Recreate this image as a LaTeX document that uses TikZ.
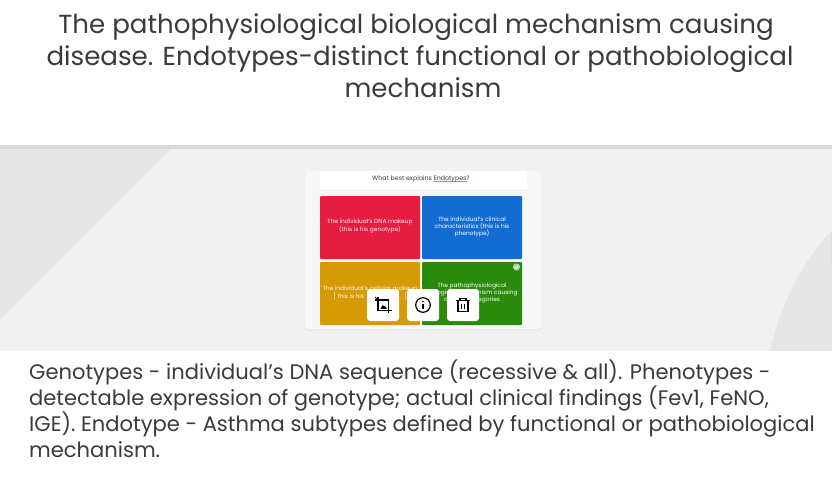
\documentclass[tikz,border=0pt]{standalone}
\usepackage{fontspec}
\setmainfont{Poppins}
\usetikzlibrary{decorations.pathmorphing}
\definecolor{inktext}{HTML}{3B3B3B}
\definecolor{panelbg}{HTML}{F1F1F1}
\definecolor{paneldark}{HTML}{E6E6E6}
\definecolor{rulegrey}{HTML}{D9D9D9}
\definecolor{cardred}{HTML}{E61C41}
\definecolor{cardblue}{HTML}{136CD2}
\definecolor{cardyellow}{HTML}{D69A04}
\definecolor{cardgreen}{HTML}{2A8A0C}
\tikzset{
  anstext/.style={text=white,align=center,font=\fontsize{5.9}{6.8}\selectfont,inner sep=0pt},
  toolbtn/.style={fill=white,rounded corners=3pt,draw=none},
  icon/.style={draw=black,line width=1.1pt},
}
\begin{document}
\begin{tikzpicture}[x=1pt,y=-1pt]
\useasboundingbox (0,0) rectangle (832,485);
\fill[white] (0,0) rectangle (832,485);
% band
\fill[panelbg] (0,149) rectangle (832,351);
\fill[rulegrey] (0,145) rectangle (832,149);
\fill[paneldark] (0,149) -- (171,149) -- (0,320) -- cycle;
\fill[paneldark] (770,351) .. controls (781,303) and (803,261) .. (832,230) -- (832,351) -- cycle;
\fill[rulegrey!80!paneldark] (830.5,232) rectangle (832,266);
% title
\node[text=inktext,align=center,inner sep=0pt,font=\fontsize{26.1}{32}\selectfont] (title) at (423,55.5)
  {The pathophysiological biological mechanism causing\hspace{14pt}\null\\disease. Endotypes-distinct functional or pathobiological\hspace{6pt}\null\\mechanism};
% card
\fill[black!9,rounded corners=4pt] (304.5,171.5) rectangle (542.5,330.5);
\fill[panelbg!60!white,rounded corners=4pt] (305,171) rectangle (542,329);
\fill[white] (320,171) rectangle (527,190);
\draw[black!8,line width=.6pt] (320,190.3) -- (527,190.3);
\node[text=inktext,inner sep=0pt,font=\fontsize{6.3}{7}\selectfont] (question) at (421,178.5) {What best explains Endotypes?};
\draw[cardred,line width=.35pt,decorate,decoration={snake,amplitude=.3pt,segment length=2pt}] (433.5,181.6) -- (467,181.6);
% answers
\fill[cardred,rounded corners=1pt] (320,196) rectangle (420,259);
\fill[cardblue,rounded corners=1pt] (422,196) rectangle (522,259);
\fill[cardyellow,rounded corners=1pt] (320,262) rectangle (420,325);
\fill[cardgreen,rounded corners=1pt] (422,262) rectangle (522,325);
\node[anstext] (atext) at (370,226.5) {The individual's DNA makeup\\(this is his genotype)};
\node[anstext] (btext) at (472,227) {The individual's clinical\\characteristics (this is his\\phenotype)};
\node[anstext] (ctext) at (370,292.5) {The individual's cellular makeup\\{[} this is his\hspace{40pt}{]}};
\node[anstext] (dtext) at (472,293) {The pathophysiological\\biological mechanism causing\\disease categories};
% check
\fill[white!60!cardgreen] (516.5,267) circle (3.6);
\draw[white,line width=.7pt] (514.7,267.1) -- (516,268.5) -- (518.4,265.6);
% buttons
\fill[toolbtn] (367,289) rectangle (399,321);
\fill[toolbtn] (407,289) rectangle (439,321);
\fill[toolbtn] (447,289) rectangle (479,321);
% crop icon
\draw[icon] (378,297) -- (378,310.5) -- (392,310.5);
\draw[icon] (375,300) -- (388.5,300) -- (388.5,313);
\draw[icon,line width=.8pt] (377.5,299.5) -- (375,297);
\fill[black] (380.5,308.8) -- (382.8,304.8) -- (384.2,306.8) -- (385,305.8) -- (386.8,308.8) -- cycle;
% info icon
\draw[icon,line width=1.2pt] (423,305) circle (7.3);
\fill[black] (423,301.5) circle (.95);
\draw[black,line width=1.5pt] (423,303.8) -- (423,309.2);
% trash icon
\draw[icon,line width=1.4pt] (456,300.2) -- (470,300.2);
\draw[icon,line width=1.2pt] (460,299.5) -- (460,298.3) -- (466,298.3) -- (466,299.5);
\draw[icon,line width=1.3pt] (458,300.5) -- (458,311.6) -- (468,311.6) -- (468,300.5);
\draw[icon,line width=1.2pt] (461.5,303.5) -- (461.5,309);
\draw[icon,line width=1.2pt] (464.5,303.5) -- (464.5,309);
% body
\node[anchor=north west,text=inktext,align=left,inner sep=0pt,font=\fontsize{21.05}{26}\selectfont] (body) at (29,359.7)
  {Genotypes - individual’s DNA sequence (recessive \& all). Phenotypes -\\detectable expression of genotype; actual clinical findings (Fev1, FeNO,\\IGE). Endotype - Asthma subtypes defined by functional or pathobiological\\mechanism.};
\end{tikzpicture}
\end{document}
